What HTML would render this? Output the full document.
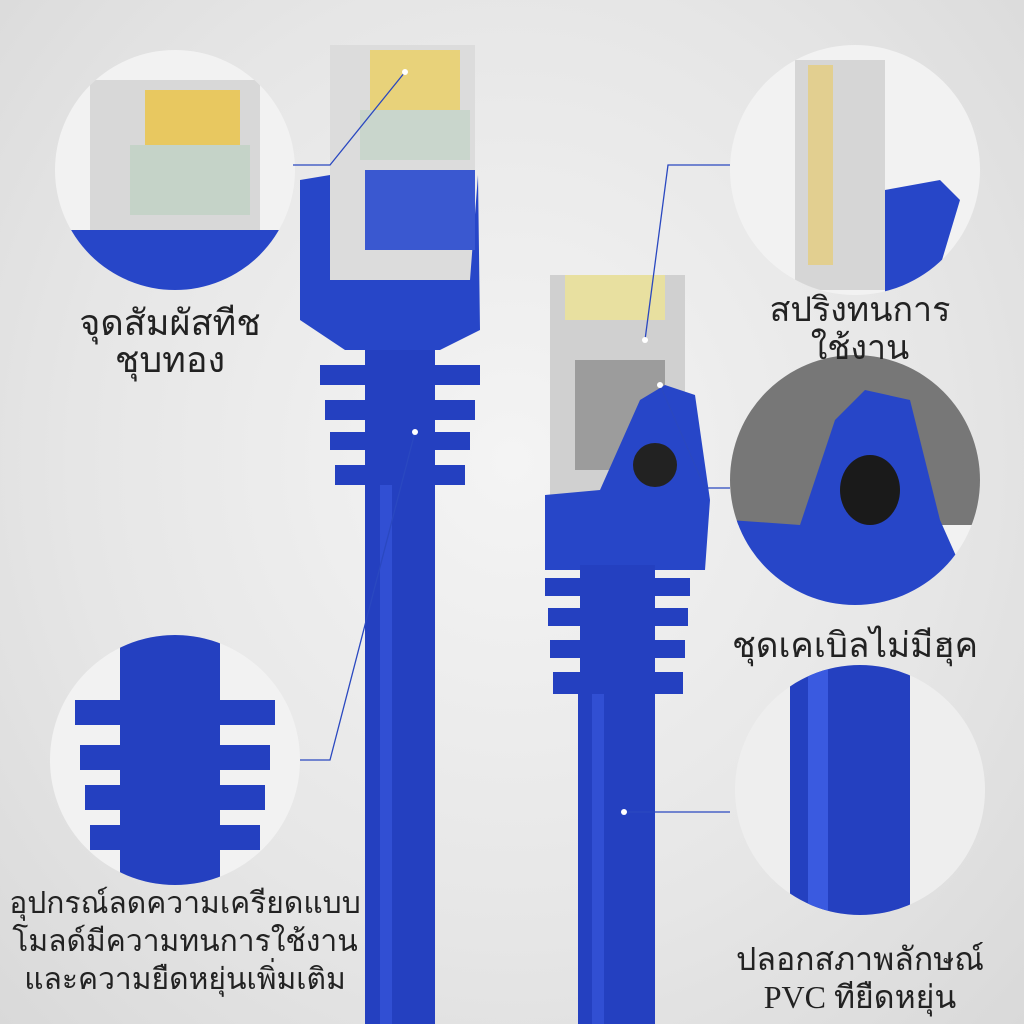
<!DOCTYPE html>
<html><head><meta charset="utf-8"><style>
html,body{margin:0;padding:0}
body{width:1024px;height:1024px;overflow:hidden;position:relative;background:radial-gradient(ellipse at 50% 45%,#f4f4f4 0%,#e6e6e6 60%,#d9d9d9 100%);font-family:"Liberation Serif","DejaVu Serif",serif;}
.t{position:absolute;color:#222;font-size:30px;line-height:38px;text-align:center;white-space:nowrap}
</style></head><body>
<svg width="1024" height="1024" style="position:absolute;left:0;top:0">
<rect x="330" y="45" width="145" height="240" fill="#dcdcdc"/>
<rect x="370" y="50" width="90" height="60" fill="#e8d27a"/>
<rect x="360" y="110" width="110" height="50" fill="#c9d6cc"/>
<path d="M300 180 L330 175 L330 280 L470 280 L478 175 L480 330 L440 350 L345 350 L300 320 Z" fill="#2746c8"/>
<rect x="365" y="170" width="110" height="80" fill="#3a58d0"/>
<g fill="#2440c0">
<rect x="320" y="365" width="160" height="20"/><rect x="325" y="400" width="150" height="20"/>
<rect x="330" y="432" width="140" height="18"/><rect x="335" y="465" width="130" height="20"/>
<rect x="365" y="350" width="70" height="140"/>
<rect x="365" y="485" width="70" height="539"/>
</g>
<rect x="380" y="485" width="12" height="539" fill="#3a5ae0" opacity=".6"/>
<rect x="550" y="275" width="135" height="225" fill="#d0d0d0"/>
<rect x="565" y="275" width="100" height="45" fill="#e8e0a0"/>
<rect x="575" y="360" width="90" height="110" fill="#7a7a7a" opacity=".6"/>
<path d="M545 495 L600 490 L640 400 L665 385 L695 395 L710 500 L705 570 L545 570 Z" fill="#2746c8"/>
<circle cx="655" cy="465" r="22" fill="#222"/>
<g fill="#2440c0">
<rect x="545" y="578" width="145" height="18"/><rect x="548" y="608" width="140" height="18"/>
<rect x="550" y="640" width="135" height="18"/><rect x="553" y="672" width="130" height="22"/>
<rect x="580" y="565" width="75" height="130"/>
<rect x="578" y="694" width="77" height="330"/>
</g>
<rect x="592" y="694" width="12" height="330" fill="#3a5ae0" opacity=".6"/>
<defs>
<clipPath id="c1"><circle cx="175" cy="170" r="120"/></clipPath>
<clipPath id="c2"><circle cx="855" cy="170" r="125"/></clipPath>
<clipPath id="c3"><circle cx="855" cy="480" r="125"/></clipPath>
<clipPath id="c4"><circle cx="860" cy="790" r="125"/></clipPath>
<clipPath id="c5"><circle cx="175" cy="760" r="125"/></clipPath>
</defs>
<circle cx="175" cy="170" r="120" fill="#f2f2f2"/>
<g clip-path="url(#c1)">
<rect x="90" y="80" width="170" height="200" fill="#d8d8d8"/>
<rect x="145" y="90" width="95" height="55" fill="#e8c860"/>
<rect x="130" y="145" width="120" height="70" fill="#c5d3c8"/>
<rect x="60" y="230" width="220" height="60" fill="#2746c8"/>
</g>
<circle cx="855" cy="170" r="125" fill="#f2f2f2"/>
<g clip-path="url(#c2)">
<rect x="795" y="60" width="90" height="230" fill="#d6d6d6"/>
<rect x="808" y="65" width="25" height="200" fill="#e2cf90"/>
<path d="M885 190 L940 180 L960 200 L930 300 L885 300 Z" fill="#2746c8"/>
</g>
<circle cx="855" cy="480" r="125" fill="#f2f2f2"/>
<g clip-path="url(#c3)">
<rect x="730" y="355" width="260" height="170" fill="#777"/>
<path d="M730 520 L800 525 L835 420 L865 390 L910 400 L940 520 L980 610 L730 610 Z" fill="#2746c8"/>
<ellipse cx="870" cy="490" rx="30" ry="35" fill="#1a1a1a"/>
</g>
<circle cx="860" cy="790" r="125" fill="#eeeeee"/>
<g clip-path="url(#c4)">
<rect x="790" y="660" width="120" height="260" fill="#2440c0"/>
<rect x="808" y="660" width="20" height="260" fill="#3a5ae0"/>
</g>
<circle cx="175" cy="760" r="125" fill="#f2f2f2"/>
<g clip-path="url(#c5)" fill="#2440c0">
<rect x="120" y="630" width="100" height="260"/>
<rect x="75" y="700" width="200" height="25"/><rect x="80" y="745" width="190" height="25"/>
<rect x="85" y="785" width="180" height="25"/><rect x="90" y="825" width="170" height="25"/>
</g>
<g stroke="#2a48c0" stroke-width="1.3" fill="none">
<polyline points="405,72 330,165 293,165"/>
<polyline points="645,340 668,165 730,165"/>
<polyline points="660,385 705,488 730,488"/>
<polyline points="624,812 730,812"/>
<polyline points="415,432 330,760 300,760"/>
</g>
<g fill="#fff"><circle cx="405" cy="72" r="3"/><circle cx="645" cy="340" r="3"/><circle cx="660" cy="385" r="3"/><circle cx="624" cy="812" r="3"/><circle cx="415" cy="432" r="3"/></g>
</svg>
<div class="t" style="left:50px;top:305px;width:240px;font-size:36px;line-height:37px">จุดสัมผัสทีช<br>ชุบทอง</div>
<div class="t" style="left:735px;top:292px;width:250px;font-size:34px;line-height:38px">สปริงทนการ<br>ใช้งาน</div>
<div class="t" style="left:715px;top:627px;width:280px;font-size:35px">ชุดเคเบิลไม่มีฮุค</div>
<div class="t" style="left:725px;top:940px;width:270px;font-size:32px">ปลอกสภาพลักษณ์<br>PVC ทียืดหยุ่น</div>
<div class="t" style="left:5px;top:885px;width:360px">อุปกรณ์ลดความเครียดแบบ<br>โมลด์มีความทนการใช้งาน<br>และความยืดหยุ่นเพิ่มเติม</div>
</body></html>
